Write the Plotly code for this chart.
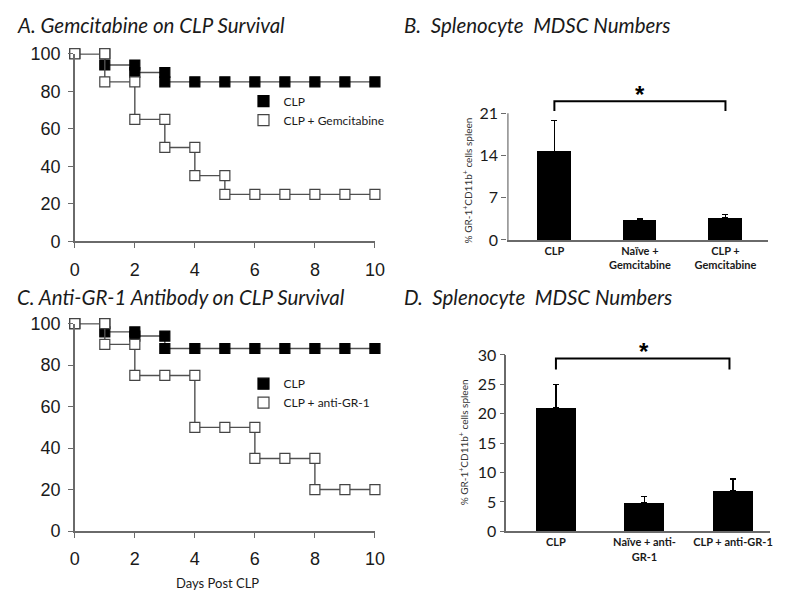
import plotly.graph_objects as go

# ---------------- data ----------------
days = [0, 1, 2, 3, 4, 5, 6, 7, 8, 9, 10]
surv_a_clp = [100, 94, 90, 85, 85, 85, 85, 85, 85, 85, 85]
surv_a_gem = [100, 85, 65, 50, 35, 25, 25, 25, 25, 25, 25]
surv_c_clp = [100, 96, 94, 88, 88, 88, 88, 88, 88, 88, 88]
surv_c_anti = [100, 90, 75, 75, 50, 50, 35, 35, 20, 20, 20]

cats_b = ["CLP", "Naïve +<br>Gemcitabine", "CLP +<br>Gemcitabine"]
mean_b = [14.7, 3.2, 3.6]
err_b = [5.1, 0.3, 0.6]

cats_d = ["CLP", "Naïve + anti-<br>GR-1", "CLP + anti-GR-1"]
mean_d = [21.0, 4.9, 6.9]
err_d = [4.0, 1.0, 2.0]

ticks_surv_y = [0, 20, 40, 60, 80, 100]
ticks_surv_x = [0, 2, 4, 6, 8, 10]
ticks_b_y = [0, 7, 14, 21]
ticks_d_y = [0, 5, 10, 15, 20, 25, 30]

# ---------------- helpers ----------------
OFF = 8                      # default page body margin
W, H = 798 - 2 * OFF, 608 - 2 * OFF
def px(x):
    return (x - OFF) / W
def py(y):
    return 1 - (y - OFF) / H

def km_steps(d, s):
    xs, ys = [d[0]], [s[0]]
    for i in range(1, len(d)):
        xs.append(d[i]); ys.append(s[i - 1])
        if s[i] != s[i - 1]:
            xs.append(d[i]); ys.append(s[i])
    return xs, ys

AX = "#6a6a6a"
LINE = "#505050"
TXT = "#1a1a1a"

fig = go.Figure()

def surv_trace(s, filled, xa, ya, name):
    xs, ys = km_steps(days, s)
    fig.add_trace(go.Scatter(
        x=xs, y=ys, mode="lines+markers", name=name, showlegend=False,
        line=dict(color=LINE, width=1.4),
        marker=dict(symbol="square", size=10,
                    color="black" if filled else "white",
                    line=dict(color="black" if filled else "#444", width=1.2)),
        cliponaxis=False, xaxis=xa, yaxis=ya))

def legend_trace(filled, name, leg, xa, ya):
    fig.add_trace(go.Scatter(
        x=[None], y=[None], mode="markers", name=name, legend=leg,
        marker=dict(symbol="square", size=11,
                    color="black" if filled else "white",
                    line=dict(color="black" if filled else "#444", width=1.2)),
        xaxis=xa, yaxis=ya))

surv_trace(surv_a_clp, True, "x", "y", "CLP")
surv_trace(surv_a_gem, False, "x", "y", "CLP + Gemcitabine")
legend_trace(True, "CLP", "legend", "x", "y")
legend_trace(False, "CLP + Gemcitabine", "legend", "x", "y")
surv_trace(surv_c_clp, True, "x3", "y3", "CLP")
surv_trace(surv_c_anti, False, "x3", "y3", "CLP + anti-GR-1")
legend_trace(True, "CLP", "legend2", "x3", "y3")
legend_trace(False, "CLP + anti-GR-1", "legend2", "x3", "y3")

fig.add_trace(go.Bar(
    x=[0, 1, 2], y=mean_b, width=0.39, marker=dict(color="black", line=dict(width=0)),
    error_y=dict(type="data", array=err_b, arrayminus=[0] * 3, symmetric=False,
                 color="black", thickness=1.5, width=3),
    showlegend=False, xaxis="x2", yaxis="y2"))
fig.add_trace(go.Bar(
    x=[0, 1, 2], y=mean_d, width=0.45, marker=dict(color="black", line=dict(width=0)),
    error_y=dict(type="data", array=err_d, arrayminus=[0] * 3, symmetric=False,
                 color="black", thickness=1.5, width=3),
    showlegend=False, xaxis="x4", yaxis="y4"))

surv_font = dict(family="Liberation Sans, Arial", size=18, color=TXT)
bar_font = dict(family="Lato, Calibri", size=16, color=TXT)
cat_font = dict(family="Lato, Calibri", size=11, color=TXT, weight="bold")

def surv_axes(xkey, ykey, ydom, anchor_x, anchor_y):
    fig.layout[xkey] = dict(domain=[px(71), px(377)], range=[0, 10], anchor=anchor_y,
                            tickvals=ticks_surv_x, showline=True, linecolor=AX, linewidth=1.5,
                            ticks="outside", ticklen=5, tickcolor=AX, tickwidth=1.3,
                            showgrid=False, zeroline=False, tickfont=surv_font,
                            ticklabelstandoff=6)
    fig.layout[ykey] = dict(domain=ydom, range=[0, 100], anchor=anchor_x,
                            tickvals=ticks_surv_y, showline=True, linecolor=AX, linewidth=1.5,
                            ticks="outside", ticklen=5, tickcolor=AX, tickwidth=1.3,
                            showgrid=False, zeroline=False, tickfont=surv_font,
                            ticklabelstandoff=4)

surv_axes("xaxis", "yaxis", [py(239), py(45)], "x", "y")
surv_axes("xaxis3", "yaxis3", [py(539), py(324.3)], "x3", "y3")

b_top = 24.5
b_bottom_px, b_scale = 237.7, 6.24
fig.layout["xaxis2"] = dict(domain=[px(512), px(778)], range=[-0.55, 2.5], anchor="y2",
                            tickvals=[0, 1, 2], ticktext=cats_b, showline=True, linecolor=AX,
                            linewidth=1.5, ticks="", showgrid=False, zeroline=False,
                            tickfont=cat_font)
fig.layout["yaxis2"] = dict(domain=[py(b_bottom_px), py(b_bottom_px - b_top * b_scale)],
                            range=[0, b_top], anchor="x2", tickvals=ticks_b_y, showline=False,
                            ticks="outside", ticklen=5, tickcolor=AX, tickwidth=1.3,
                            showgrid=False, zeroline=False, tickfont=bar_font)
fig.layout["xaxis4"] = dict(domain=[px(511), px(780)], range=[-0.56, 2.42], anchor="y4",
                            tickvals=[0, 1, 2], ticktext=cats_d, showline=True, linecolor=AX,
                            linewidth=1.5, ticks="", showgrid=False, zeroline=False,
                            tickfont=cat_font)
fig.layout["yaxis4"] = dict(domain=[py(539.3), py(356.7)], range=[0, 30], anchor="x4",
                            tickvals=ticks_d_y, showline=True, linecolor=AX, linewidth=1.5,
                            ticks="outside", ticklen=5, tickcolor=AX, tickwidth=1.3,
                            showgrid=False, zeroline=False, tickfont=bar_font)

shapes = [
    dict(type="line", xref="x2", yref="y2", x0=-0.545, x1=-0.545, y0=0, y1=ticks_b_y[-1],
         line=dict(color=AX, width=1.5)),
    dict(type="path", xref="x2", yref="y2", path="M 0,21.4 L 0,23 L 2,23 L 2,21.4",
         line=dict(color="black", width=2)),
    dict(type="path", xref="x4", yref="y4", path="M 0,27.5 L 0,29.4 L 1.96,29.4 L 1.96,27.5",
         line=dict(color="black", width=2)),
]

title_font = dict(family="Lato, Calibri", size=20.5, color=TXT)
annotations = [
    dict(text="<i>A. Gemcitabine on CLP Survival</i>", x=px(10), y=py(15), xref="paper",
         yref="paper", xanchor="left", yanchor="middle", showarrow=False, font=title_font),
    dict(text="<i>B.  Splenocyte  MDSC Numbers</i>", x=px(405), y=py(15), xref="paper",
         yref="paper", xanchor="left", yanchor="middle", showarrow=False, font=title_font),
    dict(text="<i>C. Anti-GR-1 Antibody on CLP Survival</i>", x=px(10), y=py(297), xref="paper",
         yref="paper", xanchor="left", yanchor="middle", showarrow=False, font=title_font),
    dict(text="<i>D.  Splenocyte  MDSC Numbers</i>", x=px(405), y=py(297), xref="paper",
         yref="paper", xanchor="left", yanchor="middle", showarrow=False, font=title_font),
    dict(text="Days Post CLP", x=px(217), y=py(593), xref="paper", yref="paper",
         xanchor="center", yanchor="middle", showarrow=False,
         font=dict(family="Lato, Calibri", size=13, color=TXT)),
    dict(text="% GR-1<sup>+</sup>CD11b<sup>+</sup> cells spleen", x=px(471), y=py(176),
         xref="paper", yref="paper", xanchor="center", yanchor="middle", textangle=-90,
         showarrow=False, font=dict(family="Lato, Calibri", size=10, color="#333")),
    dict(text="% GR-1<sup>+</sup>CD11b<sup>+</sup> cells spleen", x=px(467), y=py(447),
         xref="paper", yref="paper", xanchor="center", yanchor="middle", textangle=-90,
         showarrow=False, font=dict(family="Lato, Calibri", size=10, color="#333")),
    dict(text="<b>*</b>", x=1, y=23.0, xref="x2", yref="y2", xanchor="center",
         yanchor="bottom", yshift=-9, showarrow=False,
         font=dict(family="Liberation Sans, Arial", size=24, color="black")),
    dict(text="<b>*</b>", x=1, y=29.4, xref="x4", yref="y4", xanchor="center",
         yanchor="bottom", yshift=-9, showarrow=False,
         font=dict(family="Liberation Sans, Arial", size=24, color="black")),
]

leg_common = dict(bgcolor="rgba(0,0,0,0)", borderwidth=0, itemwidth=30, xanchor="left",
                  yanchor="top", tracegroupgap=0,
                  font=dict(family="Lato, Calibri", size=12, color=TXT))
fig.update_layout(
    width=W, height=H, margin=dict(l=0, r=0, t=0, b=0),
    paper_bgcolor="white", plot_bgcolor="white",
    shapes=shapes, annotations=annotations, bargap=0,
    legend=dict(x=px(243), y=py(79), **leg_common),
    legend2=dict(x=px(243), y=py(371.5), **leg_common),
)

fig.write_html("out.html")
